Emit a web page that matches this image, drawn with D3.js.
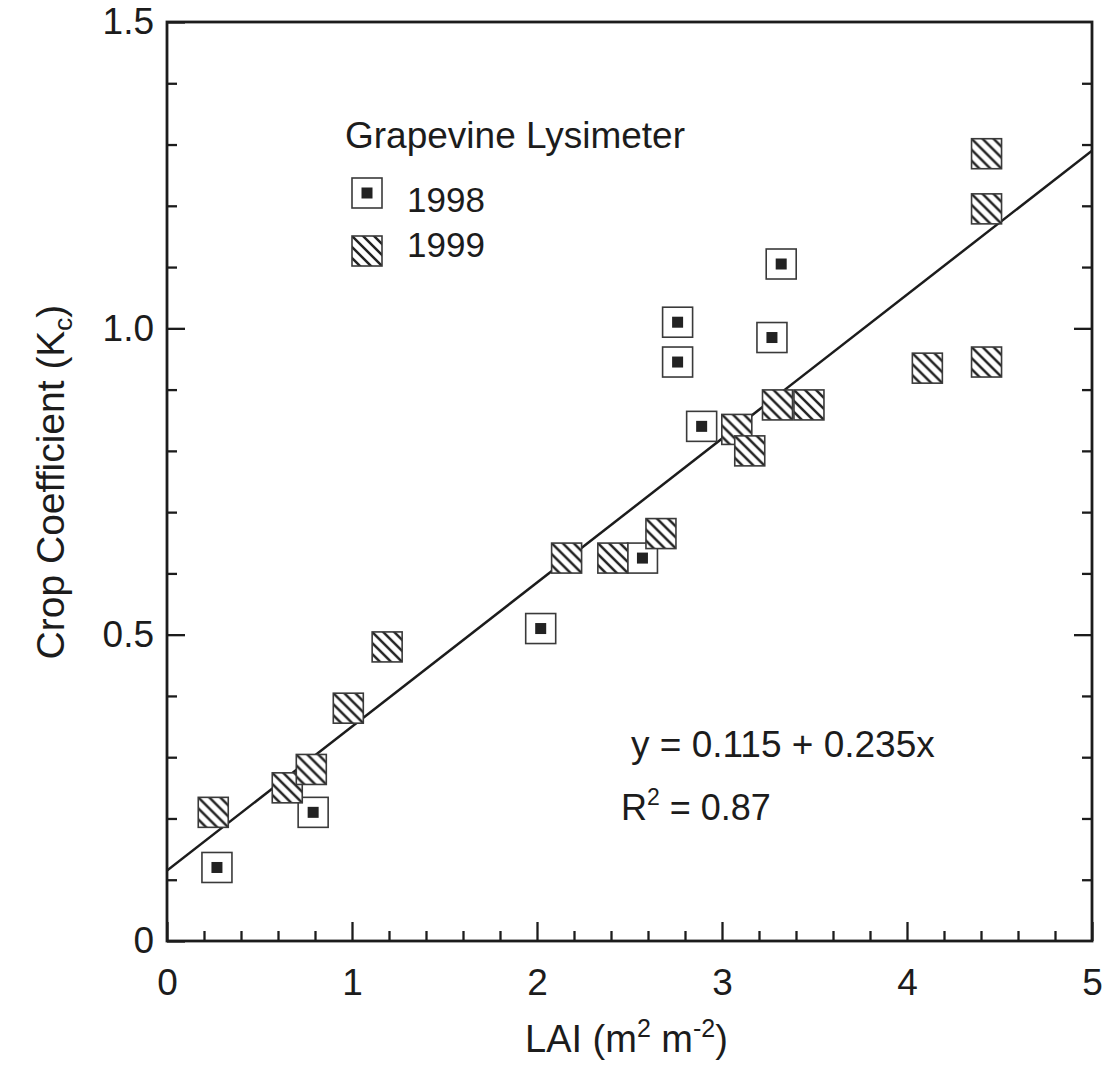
<!DOCTYPE html>
<html>
<head>
<meta charset="utf-8">
<script src="https://cdn.jsdelivr.net/npm/d3@7"></script>
<style>
  html, body { margin: 0; padding: 0; background: #fff; }
  svg { display: block; }
  text { font-family: "Liberation Sans", Arial, Helvetica, sans-serif; fill: #1c1c1c; }
</style>
</head>
<body>
<svg id="chart" width="1107" height="1068"></svg>
<script>
// LAI (m2 m-2) vs crop coefficient Kc, grapevine lysimeter
const lai1998 = [0.27, 0.79, 2.02, 2.57, 2.76, 2.76, 2.89, 3.27, 3.32];
const kc1998  = [0.12, 0.21, 0.51, 0.625, 1.01, 0.945, 0.84, 0.985, 1.105];

const lai1999 = [0.25, 0.65, 0.78, 0.98, 1.19, 2.16, 2.41, 2.67, 3.08, 3.15, 3.30, 3.47, 4.11, 4.43, 4.43, 4.43];
const kc1999  = [0.21, 0.25, 0.28, 0.38, 0.48, 0.625, 0.625, 0.665, 0.835, 0.80, 0.875, 0.875, 0.935, 0.945, 1.195, 1.285];

// fitted line y = a + b x
const fitIntercept = 0.115;
const fitSlope = 0.235;
const fitR2 = 0.87;

const xMajorTicks = [0, 1, 2, 3, 4, 5];
const yMajorTicks = [0, 0.5, 1.0, 1.5];
const yTickLabels = ["0", "0.5", "1.0", "1.5"];
const legendTitle = "Grapevine Lysimeter";
const seriesNames = ["1998", "1999"];

const svg = d3.select("#chart");
const ink = "#1c1c1c";

const plotL = 167, plotR = 1092, plotT = 22, plotB = 941;
const x = d3.scaleLinear().domain([0, 5]).range([plotL, plotR]);
const y = d3.scaleLinear().domain([0, 1.5]).range([plotB, plotT]);

const xMinor = d3.range(0, 5.0001, 0.2).filter(v => Math.abs(v - Math.round(v)) > 1e-6);
const yMinor = d3.range(0, 1.5001, 0.1).filter(v => Math.abs(v * 2 - Math.round(v * 2)) > 1e-6);

// hatch pattern for 1999 markers
const defs = svg.append("defs");
defs.append("pattern")
  .attr("id", "hatch")
  .attr("patternUnits", "userSpaceOnUse")
  .attr("x", -15).attr("y", -15)
  .attr("width", 11).attr("height", 11)
  .append("path")
  .attr("d", "M-2,-2 L13,13 M-2,9 L2,13 M9,-2 L13,2")
  .attr("stroke", "#222").attr("stroke-width", 2.5);

defs.append("clipPath").attr("id", "plotClip")
  .append("rect").attr("x", plotL).attr("y", plotT)
  .attr("width", plotR - plotL).attr("height", plotB - plotT);

function styleAxis(g) {
  g.select(".domain").remove();
  g.selectAll(".tick line").attr("stroke", ink).attr("stroke-width", 2.3);
  g.selectAll("text").attr("font-size", 37).attr("fill", ink)
    .style("font-family", '"Liberation Sans", Arial, sans-serif');
}

// bottom axis
svg.append("g").attr("transform", `translate(0,${plotB})`)
  .call(d3.axisBottom(x).tickValues(xMinor).tickSize(-10).tickFormat(""))
  .call(styleAxis);
svg.append("g").attr("transform", `translate(0,${plotB})`)
  .call(d3.axisBottom(x).tickValues(xMajorTicks).tickSize(-19).tickPadding(28).tickFormat(d3.format("d")))
  .call(styleAxis);

// left axis
svg.append("g").attr("transform", `translate(${plotL},0)`)
  .call(d3.axisLeft(y).tickValues(yMinor).tickSize(-10).tickFormat(""))
  .call(styleAxis);
svg.append("g").attr("transform", `translate(${plotL},0)`)
  .call(d3.axisLeft(y).tickValues(yMajorTicks).tickSize(-18).tickPadding(13)
    .tickFormat((d, i) => yTickLabels[i]))
  .call(styleAxis);

// right axis (ticks only)
svg.append("g").attr("transform", `translate(${plotR},0)`)
  .call(d3.axisRight(y).tickValues(yMinor).tickSize(-10).tickFormat(""))
  .call(styleAxis);
svg.append("g").attr("transform", `translate(${plotR},0)`)
  .call(d3.axisRight(y).tickValues(yMajorTicks.slice(1, 3)).tickSize(-18).tickFormat(""))
  .call(styleAxis);

// frame
svg.append("rect")
  .attr("x", plotL).attr("y", plotT)
  .attr("width", plotR - plotL).attr("height", plotB - plotT)
  .attr("fill", "none").attr("stroke", ink).attr("stroke-width", 2.8);

// regression line
const fitLine = d3.line().x(d => x(d)).y(d => y(fitIntercept + fitSlope * d));
svg.append("path")
  .attr("clip-path", "url(#plotClip)")
  .attr("d", fitLine([0, 5]))
  .attr("fill", "none").attr("stroke", ink).attr("stroke-width", 2.5);

const boxSize = 30, dotSize = 11;

function drawDotMarker(g) {
  g.append("rect").attr("x", -boxSize / 2).attr("y", -boxSize / 2)
    .attr("width", boxSize).attr("height", boxSize)
    .attr("fill", "#fff").attr("stroke", "#3a3a3a").attr("stroke-width", 1.6);
  g.append("rect").attr("x", -dotSize / 2).attr("y", -dotSize / 2)
    .attr("width", dotSize).attr("height", dotSize)
    .attr("fill", "#222");
}
function drawHatchMarker(g) {
  g.append("rect").attr("x", -boxSize / 2).attr("y", -boxSize / 2)
    .attr("width", boxSize).attr("height", boxSize)
    .attr("fill", "#fff").attr("stroke", "none");
  g.append("rect").attr("x", -boxSize / 2).attr("y", -boxSize / 2)
    .attr("width", boxSize).attr("height", boxSize)
    .attr("fill", "url(#hatch)").attr("stroke", "#3a3a3a").attr("stroke-width", 1.6);
}

const pts1998 = lai1998.map((v, i) => ({ lai: v, kc: kc1998[i] }));
const pts1999 = lai1999.map((v, i) => ({ lai: v, kc: kc1999[i] }));

svg.append("g").selectAll("g").data(pts1998).join("g")
  .attr("transform", d => `translate(${x(d.lai)},${y(d.kc)})`)
  .each(function () { drawDotMarker(d3.select(this)); });

svg.append("g").selectAll("g").data(pts1999).join("g")
  .attr("transform", d => `translate(${x(d.lai)},${y(d.kc)})`)
  .each(function () { drawHatchMarker(d3.select(this)); });

// legend
const legend = svg.append("g");
legend.append("text").attr("x", 345).attr("y", 148).attr("font-size", 37).text(legendTitle);
const lg1 = legend.append("g").attr("transform", "translate(367,193)");
drawDotMarker(lg1);
legend.append("text").attr("x", 407).attr("y", 212).attr("font-size", 35).text(seriesNames[0]);
const lg2 = legend.append("g").attr("transform", "translate(367,251)");
drawHatchMarker(lg2);
legend.append("text").attr("x", 407).attr("y", 257).attr("font-size", 35).text(seriesNames[1]);

// fit annotation
svg.append("text").attr("x", 631).attr("y", 757).attr("font-size", 37)
  .text(`y = ${fitIntercept} + ${fitSlope}x`);
const r2 = svg.append("text").attr("x", 621).attr("y", 820).attr("font-size", 36);
r2.append("tspan").text("R");
r2.append("tspan").attr("font-size", 23).attr("dy", -15).text("2");
r2.append("tspan").attr("dy", 15).text(` = ${fitR2}`);

// axis titles
const xt = svg.append("text").attr("x", 525).attr("y", 1052).attr("font-size", 38);
xt.append("tspan").text("LAI (m");
xt.append("tspan").attr("font-size", 25).attr("dy", -15).text("2");
xt.append("tspan").attr("dy", 15).text(" m");
xt.append("tspan").attr("font-size", 25).attr("dy", -15).text("-2");
xt.append("tspan").attr("dy", 15).text(")");

const yt = svg.append("text")
  .attr("transform", "translate(64,482) rotate(-90)")
  .attr("text-anchor", "middle").attr("font-size", 39);
yt.append("tspan").text("Crop Coefficient (K");
yt.append("tspan").attr("font-size", 26).attr("dy", 8).text("c");
yt.append("tspan").attr("dy", -8).text(")");
</script>
</body>
</html>
